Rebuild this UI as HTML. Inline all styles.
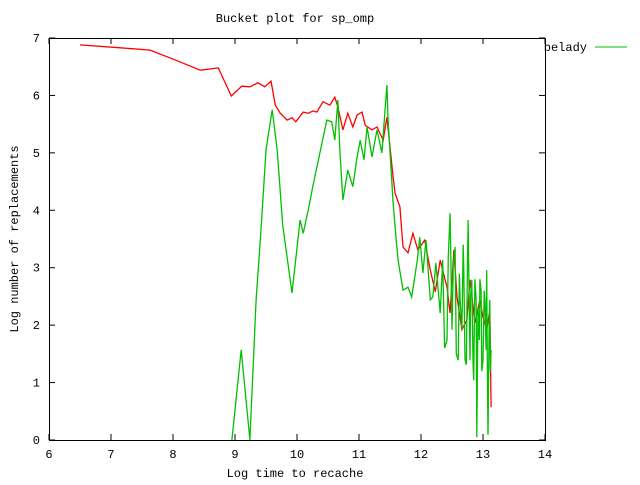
<!DOCTYPE html>
<html><head><meta charset="utf-8"><style>
body{margin:0;background:#fff}
svg text{font-family:"Liberation Mono",monospace;font-size:12px;fill:#000}
</style></head><body>
<svg id="chart" width="640" height="480" xmlns="http://www.w3.org/2000/svg">
<rect width="640" height="480" fill="#fff"/>
<text x="295" y="22" text-anchor="middle">Bucket plot for sp_omp</text>
<text x="295" y="477" text-anchor="middle">Log time to recache</text>
<text transform="translate(18,239) rotate(-90)" text-anchor="middle">Log number of replacements</text>
<g id="axes"></g>
<g id="series"></g>
<text x="587" y="51" text-anchor="end">belady</text>
<line x1="595" y1="47" x2="627" y2="47" stroke="#00c000" stroke-width="1"/>
</svg>
<script>
const xTicks=[6,7,8,9,10,11,12,13,14];
const yTicks=[0,1,2,3,4,5,6,7];
const redX=[6.50,7.15,7.63,8.03,8.44,8.73,8.94,9.11,9.24,9.37,9.48,9.58,9.65,9.73,9.84,9.92,9.98,10.10,10.18,10.26,10.32,10.42,10.53,10.61,10.66,10.74,10.82,10.90,10.97,11.05,11.10,11.21,11.29,11.39,11.45,11.50,11.55,11.58,11.66,11.71,11.79,11.87,11.95,12.06,12.15,12.23,12.31,12.42,12.47,12.53,12.58,12.66,12.74,12.79,12.87,12.95,13.00,13.06,13.11,13.13];
const redY=[6.88,6.83,6.79,6.62,6.44,6.48,5.99,6.16,6.15,6.22,6.15,6.25,5.83,5.69,5.57,5.61,5.54,5.71,5.69,5.73,5.71,5.89,5.83,5.97,5.80,5.40,5.69,5.45,5.66,5.71,5.48,5.40,5.45,5.22,5.62,5.10,4.58,4.30,4.06,3.36,3.26,3.60,3.31,3.48,2.96,2.58,3.13,2.66,2.21,3.31,2.49,1.92,2.09,2.79,2.04,2.44,2.14,1.92,2.26,0.57];
const greenX=[8.95,9.10,9.24,9.34,9.42,9.50,9.60,9.68,9.77,9.92,10.05,10.10,10.18,10.26,10.37,10.48,10.56,10.61,10.66,10.69,10.74,10.82,10.90,10.97,11.02,11.08,11.13,11.21,11.29,11.37,11.45,11.47,11.55,11.60,11.63,11.71,11.79,11.85,11.94,11.98,12.03,12.08,12.15,12.19,12.24,12.31,12.35,12.38,12.42,12.44,12.47,12.50,12.52,12.55,12.57,12.60,12.62,12.63,12.66,12.68,12.69,12.71,12.73,12.75,12.76,12.79,12.80,12.82,12.84,12.85,12.87,12.89,12.90,12.92,12.94,12.95,12.97,12.98,13.00,13.02,13.03,13.05,13.06,13.07,13.08,13.10,13.11,13.12,13.13];
const greenY=[0,1.57,0,2.44,3.66,5.05,5.75,5.05,3.74,2.56,3.83,3.60,4.00,4.44,5.00,5.57,5.54,5.22,5.92,5.05,4.18,4.70,4.41,4.93,5.22,4.88,5.45,4.93,5.40,5.00,6.18,5.57,4.13,3.48,3.13,2.61,2.66,2.49,3.13,3.53,2.91,3.48,2.44,2.49,3.08,2.21,3.13,1.60,1.74,3.20,3.95,1.92,3.00,3.36,1.50,1.39,2.90,2.44,1.92,3.40,2.96,1.40,1.31,3.10,3.83,1.39,2.50,2.79,1.30,1.04,2.80,2.44,0.05,2.30,1.74,2.80,2.61,1.20,1.39,2.60,2.44,1.57,2.96,1.40,0.09,2.09,2.44,1.20,1.57];

const L=49,R=545,T=38,B=440,xMin=6,xMax=14,yMin=0,yMax=7;
const sx=v=>L+(v-xMin)/(xMax-xMin)*(R-L);
const sy=v=>B-(v-yMin)/(yMax-yMin)*(B-T);
const NS="http://www.w3.org/2000/svg";
const axes=document.getElementById('axes');
const series=document.getElementById('series');
function mk(tag,attrs,parent){const e=document.createElementNS(NS,tag);for(const k in attrs)e.setAttribute(k,attrs[k]);parent.appendChild(e);return e;}
xTicks.forEach(t=>{
  const x=sx(t);
  const a=mk('line',{x1:x,y1:B,x2:x,y2:B-6,stroke:'#000'},axes);
  
  
  const b=mk('line',{x1:x,y1:T,x2:x,y2:T+6,stroke:'#000'},axes);
  
  
  const tx=mk('text',{x:x,y:B+18,'text-anchor':'middle'},axes);
  tx.textContent=t;
  
  
});
yTicks.forEach(t=>{
  const y=sy(t);
  const a=mk('line',{x1:L,y1:y,x2:L+6,y2:y,stroke:'#000'},axes);
  
  
  const b=mk('line',{x1:R,y1:y,x2:R-6,y2:y,stroke:'#000'},axes);
  
  
  const tx=mk('text',{x:L-9,y:y+4,'text-anchor':'end'},axes);
  tx.textContent=t;
  
  
});
const border=mk('rect',{x:L+0.5,y:T+0.5,width:R-L,height:B-T,fill:'none',stroke:'#000'},axes);


function line(xs,ys,color,name){
  const pts=xs.map((v,i)=>sx(v).toFixed(1)+','+sy(ys[i]).toFixed(1)).join(' ');
  const p=mk('polyline',{points:pts,fill:'none',stroke:color,'stroke-width':1.3},series);
  
  
}
line(redX,redY,'#ff0000','series-red');
line(greenX,greenY,'#00c000','series-belady');
</script>
</body></html>
